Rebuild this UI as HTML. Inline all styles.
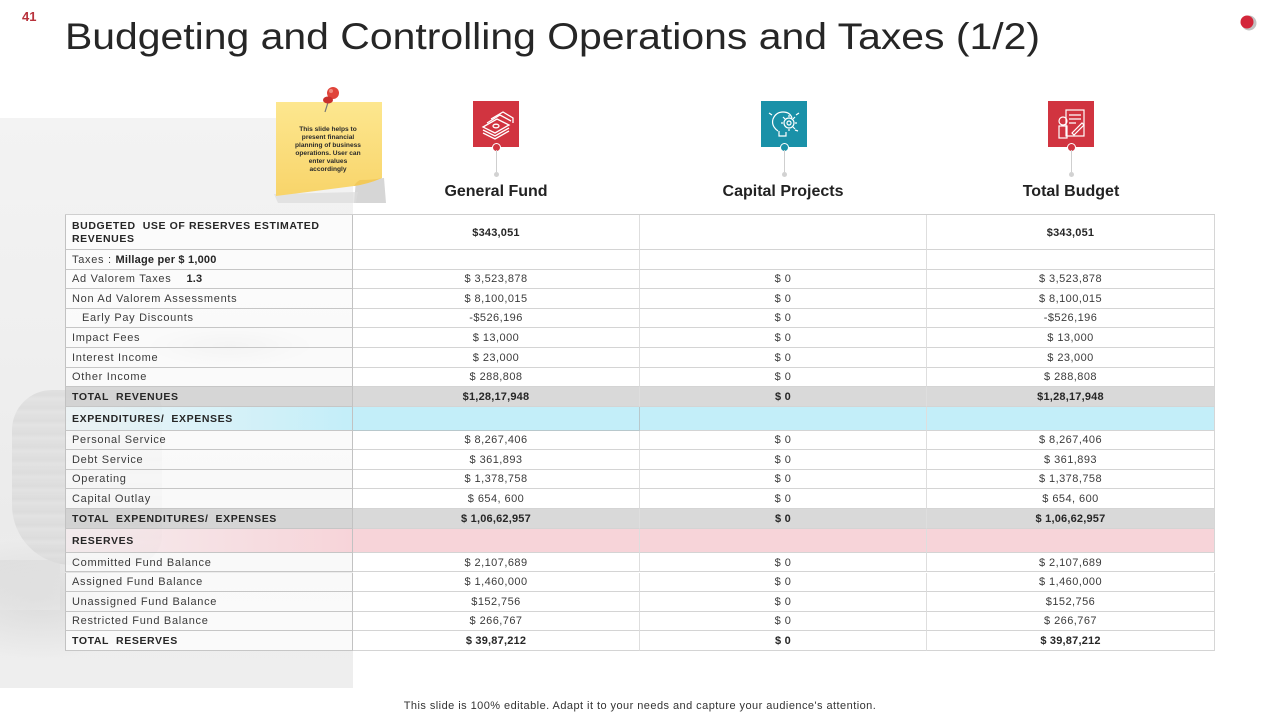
<!DOCTYPE html>
<html><head><meta charset="utf-8">
<style>
html,body{margin:0;padding:0;}
body{width:1280px;height:720px;position:relative;overflow:hidden;background:#fff;font-family:"Liberation Sans",Arial,sans-serif;}
.bg{position:absolute;left:0;top:118px;width:353px;height:570px;
 background:
 radial-gradient(ellipse 90px 22px at 230px 228px, rgba(170,170,170,.3), rgba(170,170,170,0)),
 radial-gradient(ellipse 120px 60px at 40px 480px, rgba(150,150,150,.2), rgba(150,150,150,0)),
 linear-gradient(180deg,#f3f3f3 0%,#efefef 40%,#ebebeb 70%,#eeeeee 100%);}
.coin{position:absolute;left:12px;top:390px;width:150px;height:175px;border-radius:40px 20px 30px 60px;
 background:repeating-linear-gradient(180deg,#d4d4d4 0px,#cdcdcd 5px,#dadada 9px,#d2d2d2 13px);opacity:.5;}
.coin2{position:absolute;left:0;top:560px;width:60px;height:50px;background:linear-gradient(170deg,#d8d8d8,#e9e9e9);opacity:.5;}
.r{position:absolute;left:65px;width:1150px;font-size:11px;color:#3b3b3b;}
.c{position:absolute;top:0;height:100%;display:flex;align-items:center;box-sizing:border-box;border-bottom:1px solid #d4d4d4;padding-top:1px;}
.l{left:0;width:288px;padding-left:6px;background:rgba(255,255,255,.7);border-left:1px solid #c2c2c2;border-right:1px solid #c2c2c2;border-bottom-color:#c6c6c6;letter-spacing:.7px;}
.g,.p,.t{letter-spacing:.45px;}
.g{left:288px;width:287px;justify-content:center;border-right:1px solid #dedede;background:#fff;}
.p{left:575px;width:287px;justify-content:center;border-right:1px solid #dedede;background:#fff;}
.t{left:862px;width:288px;justify-content:center;border-right:1px solid #d6d6d6;background:#fff;}
.b{font-weight:bold;color:#262626;letter-spacing:.2px;}
.cap{font-weight:bold;color:#262626;font-size:10.5px;letter-spacing:.6px;}
.gray .g,.gray .p,.gray .t{background:#d9d9d9;}
.gray .l{background:rgba(208,208,208,.8);}
.blue .g,.blue .p,.blue .t{background:#c3eef9;}
.blue .l{background:linear-gradient(90deg,rgba(240,248,250,.75),#c3eef9);}
.pink .g,.pink .p,.pink .t{background:#f7d4d9;}
.pink .l{background:linear-gradient(90deg,rgba(248,238,240,.75),#f7d4d9);}
.hd{position:absolute;top:183px;width:200px;text-align:center;font-size:16px;font-weight:bold;color:#222;}
.ic{position:absolute;top:101px;width:46px;height:46px;}
.stem{position:absolute;top:150px;width:1px;height:22px;background:#cfcfcf;}
.dot{position:absolute;top:143px;width:7px;height:7px;border-radius:50%;border:1px solid #fff;}
.gdot{position:absolute;top:172px;width:5px;height:5px;border-radius:50%;background:#d2d2d2;}
</style></head>
<body>
<div class="bg"></div>
<div class="coin"></div>
<div class="coin2"></div>

<div style="position:absolute;left:22px;top:9px;font-size:13px;font-weight:bold;color:#b8323c;">41</div>
<svg style="position:absolute;left:0;top:0" width="1280" height="70">
 <text x="65" y="49" font-family="Liberation Sans, Arial, sans-serif" font-size="37" fill="#262626" textLength="975" lengthAdjust="spacingAndGlyphs">Budgeting and Controlling Operations and Taxes (1/2)</text>
 <circle cx="1249" cy="23" r="7.5" fill="#9a9a9a" opacity=".6"/>
 <circle cx="1247" cy="22" r="6.5" fill="#d3263a"/>
</svg>

<!-- sticky note -->
<svg style="position:absolute;left:268px;top:82px" width="125" height="125">
 <path d="M88 98 L116 96 L118 121 L86 121 Z" fill="#d6d6d6"/>
 <path d="M6 112 L10 121 L88 121 L90 110 Z" fill="#dcdcdc" opacity=".7"/>
 <defs><linearGradient id="yl" x1="0" y1="0" x2="0" y2="1"><stop offset="0" stop-color="#fde78f"/><stop offset="1" stop-color="#f8d46a"/></linearGradient></defs>
 <path d="M8 20 L114 20 L114 96 Q100 102 86 104 Q40 110 8 114 Z" fill="url(#yl)"/>
 <path d="M86 104 Q100 102 114 96 Q106 98 92 98 Q88 100 86 104 Z" fill="#f2c95a"/>
 <line x1="62" y1="14" x2="57" y2="30" stroke="#777" stroke-width="1.2"/>
 <circle cx="65" cy="11" r="6" fill="#e0443a"/>
 <ellipse cx="60" cy="18" rx="5" ry="3.5" fill="#c9302c"/>
 <circle cx="63" cy="9" r="2" fill="#f08a7e"/>
</svg>
<div style="position:absolute;left:290px;top:126px;width:76px;text-align:center;font-size:6.6px;font-weight:bold;line-height:8px;color:#2a2a2a;">This slide helps to present financial planning of business operations. User can enter values accordingly</div>

<!-- icons -->
<svg class="ic" style="left:473px" viewBox="0 0 46 46"><rect width="46" height="46" fill="#d13440"/>
 <g fill="none" stroke="#fff" stroke-width="1.3">
 <path d="M10 26 L24 18 L36 24 L22 32 Z"/><path d="M10 29 L22 35 L36 27"/><path d="M10 32 L22 38 L36 30"/>
 <path d="M14 22 L27 14 L38 20"/><path d="M18 18 L30 11 L40 17 L40 22"/>
 <ellipse cx="23" cy="25" rx="3" ry="1.8"/></g></svg>
<div class="dot" style="left:492px;background:#d13440"></div>
<div class="stem" style="left:496px"></div><div class="gdot" style="left:494px"></div>

<svg class="ic" style="left:761px" viewBox="0 0 46 46"><rect width="46" height="46" fill="#1a91a8"/>
 <g fill="none" stroke="#fff" stroke-width="1.2">
 <path d="M17 30 Q10 25 12 18 Q15 11 22 11 Q29 11 31 17"/><path d="M18 30 L18 35 L25 35 L25 31"/>
 <circle cx="28" cy="22" r="5"/><circle cx="28" cy="22" r="2"/>
 <path d="M28 14 L28 16 M28 28 L28 30 M20 22 L22 22 M34 22 L36 22 M22 16 L24 18 M32 26 L34 28 M34 16 L32 18"/>
 <path d="M8 12 L11 14 M38 12 L35 14 M37 30 L34 29"/></g></svg>
<div class="dot" style="left:780px;background:#1a91a8"></div>
<div class="stem" style="left:784px"></div><div class="gdot" style="left:782px"></div>

<svg class="ic" style="left:1048px" viewBox="0 0 46 46"><rect width="46" height="46" fill="#d13440"/>
 <g fill="none" stroke="#fff" stroke-width="1.2">
 <rect x="18" y="9" width="18" height="26"/><path d="M21 14 H33 M21 18 H33 M21 22 H28"/>
 <circle cx="15" cy="20" r="4"/><rect x="11" y="25" width="8" height="12"/>
 <path d="M24 32 L34 22 L36 24 L26 34 Z"/></g></svg>
<div class="dot" style="left:1067px;background:#d13440"></div>
<div class="stem" style="left:1071px"></div><div class="gdot" style="left:1069px"></div>

<div class="hd" style="left:396px">General Fund</div>
<div class="hd" style="left:683px">Capital Projects</div>
<div class="hd" style="left:971px">Total Budget</div>

<!-- table -->
<div style="position:absolute;left:65px;top:214px;width:1150px;height:1px;background:#cfcfcf"></div>

<div class="r" style="top:215px;height:35px"><div class="c l cap" style="line-height:13px;padding-right:24px">BUDGETED&nbsp; USE OF RESERVES ESTIMATED REVENUES</div><div class="c g b">$343,051</div><div class="c p"></div><div class="c t b">$343,051</div></div>
<div class="r" style="top:250px;height:19.5px"><div class="c l">Taxes :&nbsp;<b style="color:#262626;letter-spacing:.2px">Millage per $ 1,000</b></div><div class="c g"></div><div class="c p"></div><div class="c t"></div></div>
<div class="r" style="top:269.5px;height:19.5px"><div class="c l">Ad Valorem Taxes&nbsp;&nbsp;&nbsp;&nbsp;<b style="color:#262626;letter-spacing:.2px">1.3</b></div><div class="c g">$ 3,523,878</div><div class="c p">$ 0</div><div class="c t">$ 3,523,878</div></div>
<div class="r" style="top:289px;height:19.5px"><div class="c l">Non Ad Valorem Assessments</div><div class="c g">$ 8,100,015</div><div class="c p">$ 0</div><div class="c t">$ 8,100,015</div></div>
<div class="r" style="top:308.5px;height:19.5px"><div class="c l" style="padding-left:16px">Early Pay Discounts</div><div class="c g">-$526,196</div><div class="c p">$ 0</div><div class="c t">-$526,196</div></div>
<div class="r" style="top:328px;height:20px"><div class="c l">Impact Fees</div><div class="c g">$ 13,000</div><div class="c p">$ 0</div><div class="c t">$ 13,000</div></div>
<div class="r" style="top:348px;height:19.5px"><div class="c l">Interest Income</div><div class="c g">$ 23,000</div><div class="c p">$ 0</div><div class="c t">$ 23,000</div></div>
<div class="r" style="top:367.5px;height:19.5px"><div class="c l">Other Income</div><div class="c g">$ 288,808</div><div class="c p">$ 0</div><div class="c t">$ 288,808</div></div>
<div class="r gray" style="top:387px;height:19.7px"><div class="c l cap">TOTAL&nbsp; REVENUES</div><div class="c g b">$1,28,17,948</div><div class="c p b">$ 0</div><div class="c t b">$1,28,17,948</div></div>
<div class="r blue" style="top:406.7px;height:24px"><div class="c l cap">EXPENDITURES/&nbsp; EXPENSES</div><div class="c g" style="border-right-color:#b8c8cc;border-bottom-color:#b8c8cc"></div><div class="c p"></div><div class="c t"></div></div>
<div class="r" style="top:430.7px;height:19.6px"><div class="c l">Personal Service</div><div class="c g">$ 8,267,406</div><div class="c p">$ 0</div><div class="c t">$ 8,267,406</div></div>
<div class="r" style="top:450.3px;height:19.4px"><div class="c l">Debt Service</div><div class="c g">$ 361,893</div><div class="c p">$ 0</div><div class="c t">$ 361,893</div></div>
<div class="r" style="top:469.7px;height:19.6px"><div class="c l">Operating</div><div class="c g">$ 1,378,758</div><div class="c p">$ 0</div><div class="c t">$ 1,378,758</div></div>
<div class="r" style="top:489.3px;height:19.7px"><div class="c l">Capital Outlay</div><div class="c g">$ 654, 600</div><div class="c p">$ 0</div><div class="c t">$ 654, 600</div></div>
<div class="r gray" style="top:509px;height:20px"><div class="c l cap">TOTAL&nbsp; EXPENDITURES/&nbsp; EXPENSES</div><div class="c g b">$ 1,06,62,957</div><div class="c p b">$ 0</div><div class="c t b">$ 1,06,62,957</div></div>
<div class="r pink" style="top:529px;height:23.7px"><div class="c l cap">RESERVES</div><div class="c g"></div><div class="c p"></div><div class="c t"></div></div>
<div class="r" style="top:552.7px;height:19.8px"><div class="c l">Committed Fund Balance</div><div class="c g">$ 2,107,689</div><div class="c p">$ 0</div><div class="c t">$ 2,107,689</div></div>
<div class="r" style="top:572.5px;height:19.5px"><div class="c l">Assigned Fund Balance</div><div class="c g">$ 1,460,000</div><div class="c p">$ 0</div><div class="c t">$ 1,460,000</div></div>
<div class="r" style="top:592px;height:19.5px"><div class="c l">Unassigned Fund Balance</div><div class="c g">$152,756</div><div class="c p">$ 0</div><div class="c t">$152,756</div></div>
<div class="r" style="top:611.5px;height:19.5px"><div class="c l">Restricted Fund Balance</div><div class="c g">$ 266,767</div><div class="c p">$ 0</div><div class="c t">$ 266,767</div></div>
<div class="r" style="top:631px;height:19.5px"><div class="c l cap">TOTAL&nbsp; RESERVES</div><div class="c g b">$ 39,87,212</div><div class="c p b">$ 0</div><div class="c t b">$ 39,87,212</div></div>

<div style="position:absolute;left:0;top:700px;width:1280px;text-align:center;font-size:11px;letter-spacing:.45px;color:#333;">This slide is 100% editable. Adapt it to your needs and capture your audience's attention.</div>
</body></html>
